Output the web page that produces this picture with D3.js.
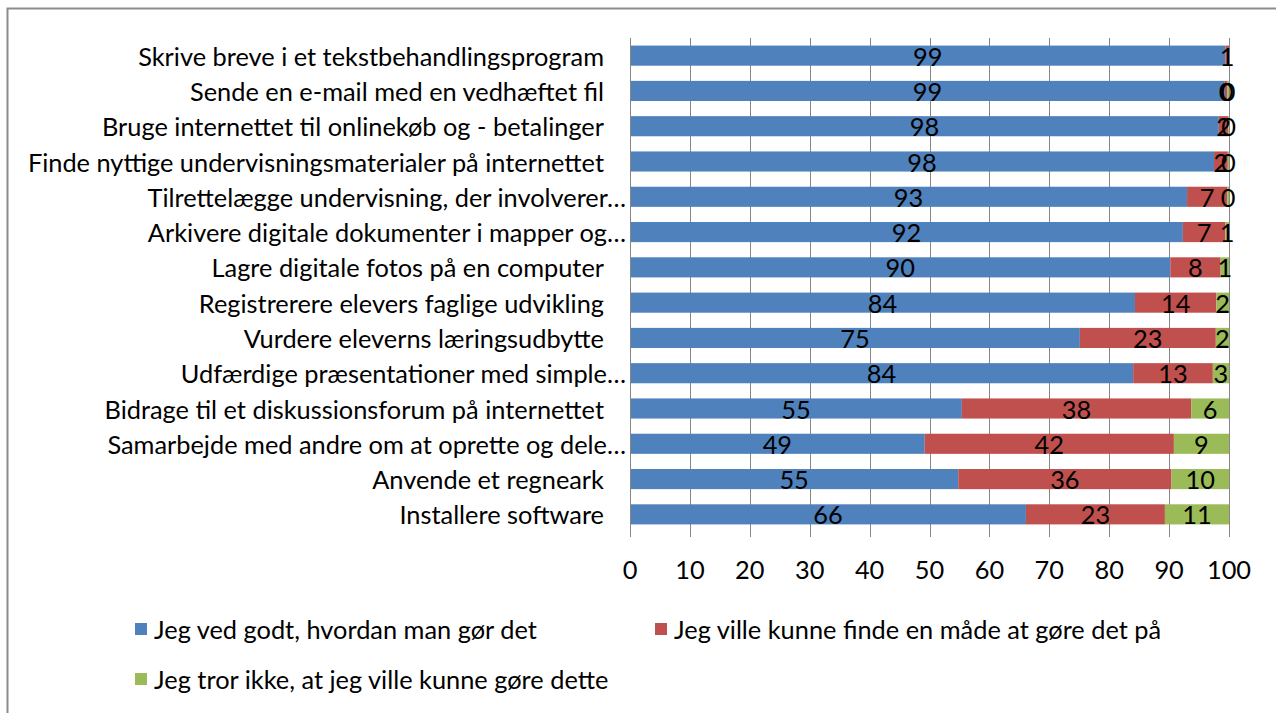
<!DOCTYPE html>
<html><head><meta charset="utf-8">
<script src="https://cdn.jsdelivr.net/npm/d3@7"></script>
<style>
html,body{margin:0;padding:0;background:#fff;}
svg text{font-family:Lato, "Open Sans", sans-serif; fill:#000;}
</style></head>
<body><svg id="c" width="1276" height="713"></svg>
<script>
const categories = [
  "Skrive breve i et tekstbehandlingsprogram",
  "Sende en e-mail med en vedhæftet fil",
  "Bruge internettet til onlinekøb og - betalinger",
  "Finde nyttige undervisningsmaterialer på internettet",
  "Tilrettelægge undervisning, der involverer…",
  "Arkivere digitale dokumenter i mapper og…",
  "Lagre digitale fotos på en computer",
  "Registrerere elevers faglige udvikling",
  "Vurdere eleverns læringsudbytte",
  "Udfærdige præsentationer med simple…",
  "Bidrage til et diskussionsforum på internettet",
  "Samarbejde med andre om at oprette og dele…",
  "Anvende et regneark",
  "Installere software"
];
const seriesNames = [
  "Jeg ved godt, hvordan man gør det",
  "Jeg ville kunne finde en måde at gøre det på",
  "Jeg tror ikke, at jeg ville kunne gøre dette"
];
const knowValues  = [99.4, 99.3, 98.3, 97.5, 93.0, 92.3, 90.2, 84.3, 75.1, 84.0, 55.4, 49.2, 54.8, 66.1];
const findValues  = [0.6, 0.4, 1.6, 2.3, 6.7, 7.1, 8.4, 13.6, 22.7, 13.3, 38.3, 41.6, 35.6, 23.2];
const cannotValues = [null, 0.3, 0.1, 0.2, 0.3, 0.6, 1.4, 2.1, 2.2, 2.7, 6.3, 9.2, 9.6, 10.7];
const xTicks = [0, 10, 20, 30, 40, 50, 60, 70, 80, 90, 100];
const colors = ["#4F81BD", "#C0504D", "#9BBB59"];

const svg = d3.select("#c");
// outer frame
svg.append("rect").attr("x", 7.5).attr("y", 8.5).attr("width", 1300).attr("height", 800)
  .attr("fill", "none").attr("stroke", "#8c8c8c").attr("stroke-width", 2);

// measure font to mimic Calibri widths
const probe = svg.append("text").attr("font-size", 20).text(categories[0]);
const w0 = probe.node().getComputedTextLength();
probe.remove();
const fs = 20 * 466 / w0;

const x = d3.scaleLinear().domain([0, 100]).range([630, 1229]);
const y = d3.scaleBand().domain(categories).range([38, 532]).paddingInner(0.43).paddingOuter(0.215);

// gridlines
svg.append("g").selectAll("line").data(xTicks.filter(d => d > 0)).join("line")
  .attr("x1", d => Math.round(x(d)) + 0.5).attr("x2", d => Math.round(x(d)) + 0.5)
  .attr("y1", 38).attr("y2", 537).attr("stroke", "#868686").attr("stroke-width", 1);

const rows = categories.map((c, i) => ({c, v: [knowValues[i], findValues[i], cannotValues[i]]}));
const segs = [];
rows.forEach(r => {
  let acc = 0;
  r.v.forEach((v, k) => {
    if (v === null) return;
    segs.push({c: r.c, k, v, x0: acc, x1: acc + v});
    acc += v;
  });
});

svg.append("g").selectAll("rect").data(segs).join("rect")
  .attr("x", d => x(d.x0)).attr("width", d => x(d.x1) - x(d.x0))
  .attr("y", d => y(d.c)).attr("height", y.bandwidth())
  .attr("fill", d => colors[d.k]);

// category axis line
svg.append("line").attr("x1", 630.5).attr("x2", 630.5).attr("y1", 38).attr("y2", 537)
  .attr("stroke", "#868686").attr("stroke-width", 1);

// data labels
const fmt = d3.format(".0f");
svg.append("g").selectAll("text").data(segs).join("text")
  .attr("x", d => x((d.x0 + d.x1) / 2)).attr("y", d => y(d.c) + y.bandwidth() / 2)
  .attr("text-anchor", "middle").attr("dominant-baseline", "central")
  .attr("font-size", fs).text(d => fmt(d.v));

// category labels (truncated ones extend closer to the axis, as in the original)
svg.append("g").selectAll("text").data(categories).join("text")
  .attr("x", d => d.endsWith("…") ? 626 : 604).attr("y", d => y(d) + y.bandwidth() / 2)
  .attr("text-anchor", "end").attr("dominant-baseline", "central")
  .attr("font-size", fs).text(d => d);

// x tick labels
svg.append("g").selectAll("text").data(xTicks).join("text")
  .attr("x", d => x(d)).attr("y", 569)
  .attr("text-anchor", "middle").attr("dominant-baseline", "central")
  .attr("font-size", fs).text(d => d);

// legend
const legendPos = [[135, 629], [655, 629], [135, 679]];
const lg = svg.append("g").selectAll("g").data(seriesNames).join("g")
  .attr("transform", (d, i) => `translate(${legendPos[i][0]},${legendPos[i][1]})`);
lg.append("rect").attr("x", 0).attr("y", -6).attr("width", 12).attr("height", 12)
  .attr("fill", (d, i) => colors[i]);
lg.append("text").attr("x", 19).attr("y", 0).attr("dominant-baseline", "central")
  .attr("font-size", fs).text(d => d);
</script></body></html>
